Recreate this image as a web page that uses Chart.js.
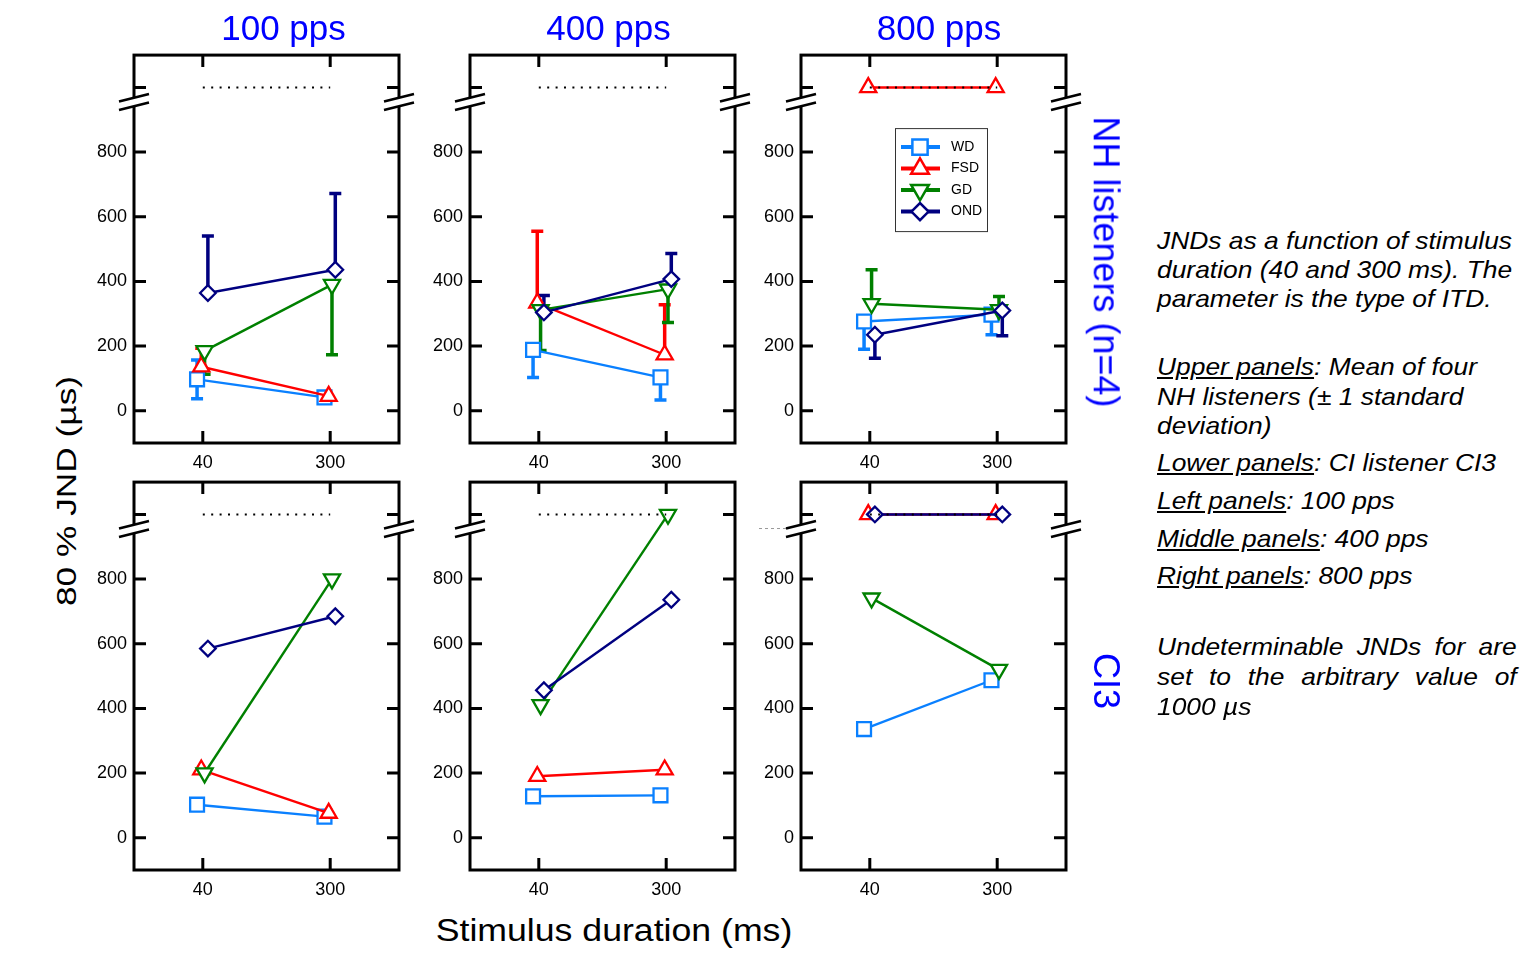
<!DOCTYPE html>
<html>
<head>
<meta charset="utf-8">
<script src="https://cdn.jsdelivr.net/npm/chart.js@4.4.1/dist/chart.umd.min.js"></script>
<style>
  body { margin: 0; background: #fff; width: 1529px; height: 978px; position: relative; overflow: hidden;
         font-family: "Liberation Sans", Arial, sans-serif; }
  canvas.panel { position: absolute; }
  .lbl { position: absolute; white-space: nowrap; line-height: 1.15; }
  .note { position: absolute; left: 1157px; font-style: italic; font-size: 24px; line-height: 30px;
          white-space: nowrap; transform: scaleX(1.1); transform-origin: left center; color: #000; }
  .note.just { width: 327px; text-align: justify; text-align-last: justify; }
</style>
</head>
<body>
<script>
(function(){
  'use strict';

  // Categories and labels
  const durations = ['40', '300'];
  const rates = ['100 pps', '400 pps', '800 pps'];
  const seriesNames = ['WD', 'FSD', 'GD', 'OND'];
  const yTicks = [0, 200, 400, 600, 800, 1000];
  const undetermined = 1000;   // value given to undeterminable JNDs

  // NH listeners, mean JND (µs) per rate [100, 400, 800 pps], each [40 ms, 300 ms]
  const wdNH  = [[97, 41], [188, 103], [276, 297]];
  const fsdNH = [[136, 45], [333, 173], [1000, 1000]];
  const gdNH  = [[185, 390], [312, 376], [331, 312]];
  const ondNH = [[364, 436], [304, 407], [235, 310]];

  // NH listeners, standard deviation shown above / below the mean
  const wdNHUp    = [[60, 0], [0, 0], [0, 0]];
  const wdNHDown  = [[60, 0], [85, 70], [86, 62]];
  const fsdNHUp   = [[57, 0], [222, 155], [0, 0]];
  const fsdNHDown = [[0, 0], [0, 0], [0, 0]];
  const gdNHUp    = [[0, 0], [0, 0], [105, 41]];
  const gdNHDown  = [[72, 217], [126, 103], [0, 0]];
  const ondNHUp   = [[176, 236], [52, 79], [0, 0]];
  const ondNHDown = [[0, 0], [0, 0], [73, 78]];

  // CI listener CI3
  const wdCI  = [[102, 65], [128, 131], [336, 487]];
  const fsdCI = [[210, 76], [190, 210], [1000, 1000]];
  const gdCI  = [[200, 800], [411, 1000], [741, 520]];
  const ondCI = [[585, 685], [456, 736], [1000, 1000]];

  const nhValues = [wdNH, fsdNH, gdNH, ondNH];
  const nhUp = [wdNHUp, fsdNHUp, gdNHUp, ondNHUp];
  const nhDown = [wdNHDown, fsdNHDown, gdNHDown, ondNHDown];
  const ciValues = [wdCI, fsdCI, gdCI, ondCI];

  // Styles
  const FONT = "'Liberation Sans', Arial, sans-serif";
  const colors = ['#0a80ff', '#ff0000', '#008000', '#000080'];
  const markers = [
    { style: 'rect', rot: 0, r: 9.8 },
    { style: 'triangle', rot: 0, r: 9.3 },
    { style: 'triangle', rot: 180, r: 9.3 },
    { style: 'rectRot', rot: 0, r: 7.8 }
  ];
  const jitter = [-0.045, -0.012, 0.014, 0.04];
  const breakValue = 955;

  // Layout
  const panelX = [134, 470, 801];
  const panelY = [55, 482];
  const panelW = 265, panelH = 388;
  const padL = 50, padR = 24, padT = 12, padB = 36;

  Chart.defaults.font.family = FONT;

  const frame = {
    id: 'frame',
    beforeDatasetsDraw(chart) {
      const { ctx, chartArea: a, scales: { x, y } } = chart;
      const tl = 12;
      ctx.save();
      ctx.strokeStyle = '#000';
      ctx.lineWidth = 3;
      ctx.strokeRect(a.left, a.top, a.right - a.left, a.bottom - a.top);
      ctx.beginPath();
      y.ticks.forEach(t => {
        const py = y.getPixelForValue(t.value);
        ctx.moveTo(a.left, py); ctx.lineTo(a.left + tl, py);
        ctx.moveTo(a.right, py); ctx.lineTo(a.right - tl, py);
      });
      x.ticks.forEach(t => {
        const px = x.getPixelForValue(t.value);
        ctx.moveTo(px, a.bottom); ctx.lineTo(px, a.bottom - tl);
        ctx.moveTo(px, a.top); ctx.lineTo(px, a.top + tl);
      });
      ctx.stroke();
      ctx.restore();
    }
  };

  const breaks = {
    id: 'breaks',
    beforeDatasetsDraw(chart, args, opts) {
      const { ctx, chartArea: a, scales: { y } } = chart;
      const cy = y.getPixelForValue(breakValue);
      const sides = [];
      if (opts.left) sides.push(a.left);
      if (opts.right) sides.push(a.right);
      ctx.save();
      sides.forEach(px => {
        const hw = 15, dy = 3.75, gap = 4.2;
        ctx.fillStyle = '#fff';
        ctx.beginPath();
        ctx.moveTo(px - hw, cy - gap + dy);
        ctx.lineTo(px + hw, cy - gap - dy);
        ctx.lineTo(px + hw, cy + gap - dy);
        ctx.lineTo(px - hw, cy + gap + dy);
        ctx.closePath();
        ctx.fill();
        ctx.strokeStyle = '#000';
        ctx.lineWidth = 2.5;
        ctx.beginPath();
        ctx.moveTo(px - hw, cy - gap + dy); ctx.lineTo(px + hw, cy - gap - dy);
        ctx.moveTo(px - hw, cy + gap + dy); ctx.lineTo(px + hw, cy + gap - dy);
        ctx.stroke();
        if (opts.dash && px === a.left) {
          ctx.strokeStyle = '#999';
          ctx.lineWidth = 1;
          ctx.setLineDash([3, 3]);
          ctx.beginPath();
          ctx.moveTo(px - 42, cy - gap + dy); ctx.lineTo(px - hw, cy - gap + dy);
          ctx.stroke();
          ctx.setLineDash([]);
        }
      });
      ctx.restore();
    }
  };

  const errorBars = {
    id: 'errorBars',
    beforeDatasetsDraw(chart) {
      const { ctx, scales: { y } } = chart;
      chart.data.datasets.forEach((ds, i) => {
        if (!ds.errUp) return;
        const pts = chart.getDatasetMeta(i).data;
        ctx.save();
        ctx.strokeStyle = ds.borderColor;
        ctx.lineWidth = 3.5;
        pts.forEach((p, j) => {
          const v = ds.data[j].y;
          [[ds.errUp[j], 1], [ds.errDown[j], -1]].forEach(([e, s]) => {
            if (!e) return;
            const yEnd = y.getPixelForValue(v + s * e);
            ctx.beginPath();
            ctx.moveTo(p.x, p.y); ctx.lineTo(p.x, yEnd);
            ctx.moveTo(p.x - 6, yEnd); ctx.lineTo(p.x + 6, yEnd);
            ctx.stroke();
          });
        });
        ctx.restore();
      });
    }
  };

  const legendBox = {
    id: 'legendBox',
    afterDatasetsDraw(chart, args, opts) {
      if (!opts.show) return;
      const { ctx, chartArea: a } = chart;
      const bx = a.left + 94, by = a.top + 73;
      ctx.save();
      ctx.fillStyle = '#fff';
      ctx.fillRect(bx, by, 92, 103);
      ctx.strokeStyle = '#333';
      ctx.lineWidth = 1;
      ctx.strokeRect(bx + 0.5, by + 0.5, 92, 103);
      chart.data.datasets.filter(d => d.inLegend).forEach((ds, i) => {
        const cy = by + 19 + i * 21.5, cx = bx + 25;
        ctx.strokeStyle = ds.borderColor;
        ctx.lineWidth = 4;
        ctx.beginPath(); ctx.moveTo(cx - 19, cy); ctx.lineTo(cx + 20, cy); ctx.stroke();
        ctx.fillStyle = '#fff';
        ctx.lineWidth = 2.5;
        Chart.helpers.drawPoint(ctx, {
          pointStyle: ds.pointStyle, rotation: ds.pointRotation || 0,
          radius: ds.pointRadius * 1.1, borderWidth: 2.5
        }, cx, cy);
        ctx.fillStyle = '#000';
        ctx.font = '14px ' + FONT;
        ctx.textBaseline = 'middle';
        ctx.fillText(ds.label, bx + 56, cy);
      });
      ctx.restore();
    }
  };

  function makeDatasets(values, up, down, col) {
    const ds = seriesNames.map((name, s) => ({
      label: name,
      inLegend: true,
      data: values[s][col].map((v, i) => ({ x: i + jitter[s], y: v })),
      errUp: up ? up[s][col] : null,
      errDown: down ? down[s][col] : null,
      borderColor: colors[s],
      backgroundColor: '#fff',
      borderWidth: 2.4,
      pointStyle: markers[s].style,
      pointRotation: markers[s].rot,
      pointRadius: markers[s].r,
      pointBorderWidth: 2.3,
      pointBackgroundColor: '#fff',
      pointBorderColor: colors[s],
      order: 4 - s
    }));
    ds.push({
      label: 'undetermined',
      inLegend: false,
      data: durations.map((d, i) => ({ x: i, y: undetermined })),
      borderColor: '#000',
      borderWidth: 2,
      borderDash: [2, 6.4],
      pointRadius: 0,
      order: 0
    });
    return ds;
  }

  function makePanel(row, col) {
    const cv = document.createElement('canvas');
    cv.className = 'panel';
    const w = panelW + padL + padR, h = panelH + padT + padB;
    cv.width = w; cv.height = h;
    cv.style.left = (panelX[col] - padL) + 'px';
    cv.style.top = (panelY[row] - padT) + 'px';
    cv.style.width = w + 'px'; cv.style.height = h + 'px';
    document.body.appendChild(cv);

    const nh = row === 0;
    const datasets = nh
      ? makeDatasets(nhValues, nhUp, nhDown, col)
      : makeDatasets(ciValues, null, null, col);
    const tickFont = { size: 18, family: FONT };

    new Chart(cv, {
      type: 'line',
      data: { datasets },
      options: {
        responsive: false,
        animation: false,
        devicePixelRatio: 1,
        clip: false,
        layout: { padding: { top: padT, right: padR, left: 0, bottom: 0 } },
        plugins: {
          legend: { display: false },
          tooltip: { enabled: false },
          breaks: { left: true, right: !(row === 1 && col === 1), dash: row === 1 && col === 2 },
          legendBox: { show: row === 0 && col === 2 }
        },
        scales: {
          x: {
            type: 'linear', min: -0.54, max: 1.54,
            afterBuildTicks: s => { s.ticks = durations.map((d, i) => ({ value: i })); },
            afterFit: s => { s.height = padB; s.paddingLeft = 0; s.paddingRight = 0; },
            grid: { display: false, drawTicks: false },
            border: { display: false },
            ticks: { padding: 9, color: '#000', font: tickFont, maxRotation: 0, autoSkip: false,
                     callback: v => durations[v] }
          },
          y: {
            type: 'linear', min: -100, max: 1100,
            afterBuildTicks: s => { s.ticks = yTicks.map(v => ({ value: v })); },
            afterFit: s => { s.width = padL; s.paddingTop = 0; s.paddingBottom = 0; },
            grid: { display: false, drawTicks: false },
            border: { display: false },
            ticks: { padding: 7, color: '#000', font: tickFont, autoSkip: false,
                     callback: v => v === undetermined ? '' : v }
          }
        }
      },
      plugins: [frame, breaks, errorBars, legendBox]
    });
  }

  for (let r = 0; r < 2; r++) for (let c = 0; c < 3; c++) makePanel(r, c);

  // Text labels
  function place(html, cx, cy, size, color, transform) {
    const d = document.createElement('div');
    d.className = 'lbl';
    d.innerHTML = html;
    d.style.left = cx + 'px';
    d.style.top = cy + 'px';
    d.style.fontSize = size + 'px';
    d.style.color = color;
    d.style.transform = 'translate(-50%, -50%) ' + (transform || '');
    document.body.appendChild(d);
  }

  const titleX = [283.5, 608.5, 939];
  rates.forEach((t, i) => place(t, titleX[i], 28, 35, '#0000ff'));
  place('NH listeners (n=4)', 1106, 262, 36, '#0000ff', 'rotate(90deg)');
  place('CI3', 1106, 681, 36, '#0000ff', 'rotate(90deg)');
  place('80 % JND (µs)', 67, 491, 28, '#000', 'rotate(-90deg) scaleX(1.26)');
  place('Stimulus duration (ms)', 614, 931, 31, '#000', 'scaleX(1.15)');

  const notes = [
    ['JNDs as a function of stimulus', 241],
    ['duration (40 and 300 ms). The', 270],
    ['parameter is the type of ITD.', 299],
    ['<u>Upper panels</u>: Mean of four', 367],
    ['NH listeners (± 1 standard', 397],
    ['deviation)', 426],
    ['<u>Lower panels</u>: CI listener CI3', 463],
    ['<u>Left panels</u>: 100 pps', 501],
    ['<u>Middle panels</u>: 400 pps', 539],
    ['<u>Right panels</u>: 800 pps', 576],
    ['Undeterminable JNDs for are', 647, true],
    ['set to the arbitrary value of', 677, true],
    ['1000 µs', 707]
  ];
  notes.forEach(([t, y, just]) => {
    const d = document.createElement('div');
    d.className = 'note' + (just ? ' just' : '');
    d.innerHTML = t;
    d.style.top = (y - 15) + 'px';
    document.body.appendChild(d);
  });
})();
</script>
</body>
</html>
